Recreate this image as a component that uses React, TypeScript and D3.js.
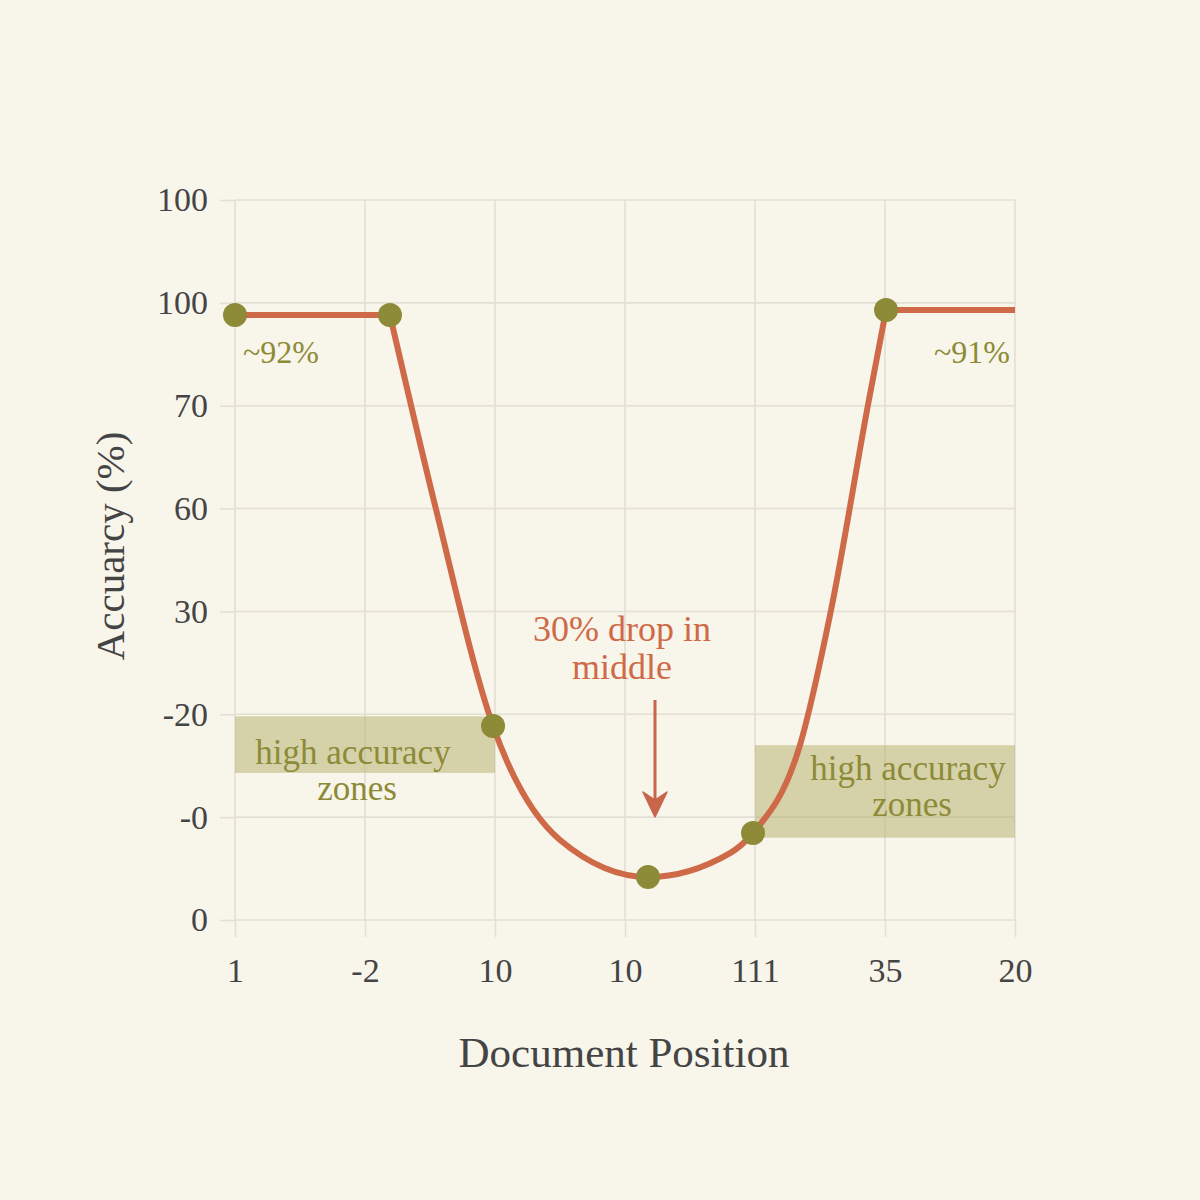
import * as d3 from "d3";
import { useEffect } from "react";
import * as React from "react";

// tick labels as printed on the chart (evenly spaced slots)
const xLabels = ["1", "-2", "10", "10", "111", "35", "20"];
const yLabels = ["0", "-0", "-20", "30", "60", "70", "100", "100"];

// accuracy curve, in tick-slot units
const curveX = [0, 1.192, 1.538, 1.985, 2.5, 3.177, 3.808, 3.985, 4.346, 4.585, 4.869, 5.008, 6];
const curveY = [5.882, 5.882, 4.035, 1.886, 0.778, 0.418, 0.651, 0.846, 1.701, 3.014, 5.007, 5.931, 5.931];

// highlighted points
const markerX = [0, 1.192, 1.985, 3.177, 3.985, 5.008];
const markerY = [5.882, 5.882, 1.886, 0.418, 0.846, 5.931];

// high accuracy zones
const zoneX0 = [0, 4];
const zoneX1 = [2, 6];
const zoneTop = [1.98, 1.7];
const zoneBottom = [1.43, 0.8];

const App: React.FC = () => {
  useEffect(() => {
    const W = 1200;
    const H = 1200;
    const font = "'Liberation Serif', 'Times New Roman', serif";
    const olive = "#8d8a38";
    const rust = "#cf6a48";
    const gridColor = "#e3dfd4";

    const svg = d3
      .select("#chart")
      .append("svg")
      .attr("width", W)
      .attr("height", H)
      .style("position", "absolute")
      .style("left", "0px")
      .style("top", "0px")
      .style("font-family", font);

    svg.append("rect").attr("width", W).attr("height", H).attr("fill", "#f8f5ea");

    const x = d3.scaleLinear().domain([0, 6]).range([235, 1015]);
    const y = d3.scaleLinear().domain([0, 7]).range([920, 200]);

    // grid
    const grid = svg.append("g");
    grid
      .selectAll("line.h")
      .data(d3.range(8))
      .enter()
      .append("line")
      .attr("x1", x(0))
      .attr("x2", x(6))
      .attr("y1", (d) => y(d))
      .attr("y2", (d) => y(d))
      .attr("stroke", gridColor)
      .attr("stroke-width", 1.6);
    grid
      .selectAll("line.v")
      .data(d3.range(7))
      .enter()
      .append("line")
      .attr("x1", (d) => x(d))
      .attr("x2", (d) => x(d))
      .attr("y1", y(7))
      .attr("y2", y(0))
      .attr("stroke", gridColor)
      .attr("stroke-width", 1.6);

    // axes
    const yAxis = svg
      .append("g")
      .attr("transform", "translate(" + x(0) + ",0)")
      .call(
        d3
          .axisLeft(y)
          .tickValues(d3.range(8))
          .tickFormat((d) => yLabels[d as number])
          .tickSize(15)
          .tickPadding(12)
      );
    const xAxis = svg
      .append("g")
      .attr("transform", "translate(0," + y(0) + ")")
      .call(
        d3
          .axisBottom(x)
          .tickValues(d3.range(7))
          .tickFormat((d) => xLabels[d as number])
          .tickSize(17)
          .tickPadding(21)
      );
    [yAxis, xAxis].forEach((g) => {
      g.select(".domain").remove();
      g.selectAll(".tick line").attr("stroke", gridColor).attr("stroke-width", 1.6);
      g.selectAll(".tick text")
        .attr("fill", "#444")
        .style("font-size", "34px")
        .style("font-family", font);
    });

    // zones
    svg
      .selectAll("rect.zone")
      .data(zoneX0)
      .enter()
      .append("rect")
      .attr("x", (d) => x(d))
      .attr("width", (d, i) => x(zoneX1[i]) - x(d))
      .attr("y", (d, i) => y(zoneTop[i]))
      .attr("height", (d, i) => y(zoneBottom[i]) - y(zoneTop[i]))
      .attr("fill", "#aba85c")
      .attr("opacity", 0.45);

    const zoneText = [
      { cx: 353, y1: 764, y2: 800 },
      { cx: 908, y1: 780, y2: 816 },
    ];
    zoneText.forEach((t) => {
      const tx = svg
        .append("text")
        .attr("text-anchor", "middle")
        .attr("fill", olive)
        .style("font-size", "35px");
      tx.append("tspan").attr("x", t.cx).attr("y", t.y1).text("high accuracy");
      tx.append("tspan").attr("x", t.cx + 4).attr("y", t.y2).text("zones");
    });

    // curve
    const pts = curveX.map((d, i) => [d, curveY[i]] as [number, number]);
    const line = d3
      .line<[number, number]>()
      .x((d) => x(d[0]))
      .y((d) => y(d[1]))
      .curve(d3.curveMonotoneX);
    svg
      .append("path")
      .attr("d", line(pts.slice(1, pts.length - 1)))
      .attr("fill", "none")
      .attr("stroke", rust)
      .attr("stroke-width", 6)
      .attr("stroke-linecap", "round");
    // flat shoulders
    [[0, 1], [pts.length - 2, pts.length - 1]].forEach(([a, b]) => {
      svg
        .append("line")
        .attr("x1", x(pts[a][0]))
        .attr("y1", y(pts[a][1]))
        .attr("x2", x(pts[b][0]))
        .attr("y2", y(pts[b][1]))
        .attr("stroke", rust)
        .attr("stroke-width", 6);
    });

    // markers
    svg
      .selectAll("circle.m")
      .data(markerX)
      .enter()
      .append("circle")
      .attr("cx", (d) => x(d))
      .attr("cy", (d, i) => y(markerY[i]))
      .attr("r", 12)
      .attr("fill", olive);

    // value labels
    svg
      .append("text")
      .attr("x", 243)
      .attr("y", 363)
      .attr("fill", olive)
      .style("font-size", "32px")
      .text("~92%");
    svg
      .append("text")
      .attr("x", 1010)
      .attr("y", 363)
      .attr("text-anchor", "end")
      .attr("fill", olive)
      .style("font-size", "32px")
      .text("~91%");

    // middle annotation
    const note = svg
      .append("text")
      .attr("text-anchor", "middle")
      .attr("fill", rust)
      .style("font-size", "36px");
    note.append("tspan").attr("x", 622).attr("y", 641).text("30% drop in");
    note.append("tspan").attr("x", 622).attr("y", 679).text("middle");

    svg
      .append("line")
      .attr("x1", 655)
      .attr("y1", 700)
      .attr("x2", 655)
      .attr("y2", 805)
      .attr("stroke", "#c8654a")
      .attr("stroke-width", 3);
    svg
      .append("path")
      .attr("d", "M643,792 L655,817 L667,792 L655,800 Z")
      .attr("fill", "#c8654a")
      .attr("stroke", "#c8654a")
      .attr("stroke-width", 1.5)
      .attr("stroke-linejoin", "round");

    // axis titles
    svg
      .append("text")
      .attr("x", 624)
      .attr("y", 1067)
      .attr("text-anchor", "middle")
      .attr("fill", "#444")
      .style("font-size", "43px")
      .text("Document Position");
    svg
      .append("text")
      .attr("transform", "translate(124,546) rotate(-90)")
      .attr("text-anchor", "middle")
      .attr("fill", "#444")
      .style("font-size", "41px")
      .text("Accuarcy (%)");

    return () => {
      d3.select("#chart").select("svg").remove();
    };
  });

  return <div id="chart"></div>;
};

export default App;
